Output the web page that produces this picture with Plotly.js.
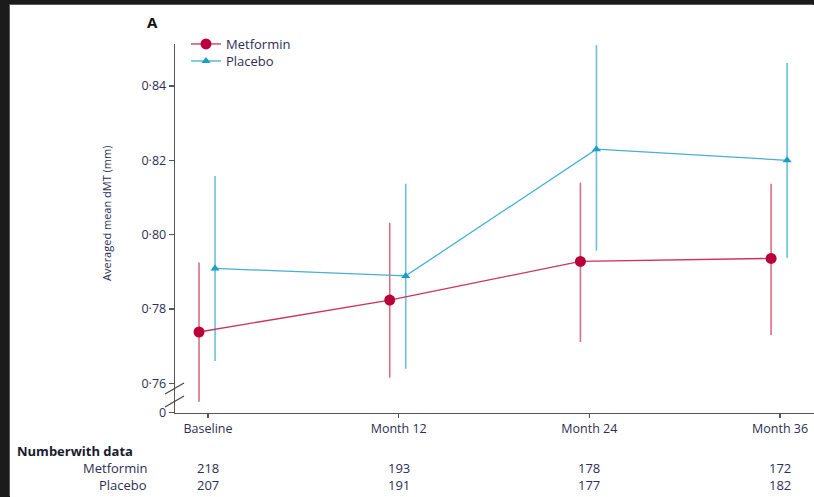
<!DOCTYPE html>
<html>
<head>
<meta charset="utf-8">
<script src="https://cdn.plot.ly/plotly-3.0.1.min.js"></script>
<style>
  html, body { margin: 0; padding: 0; width: 814px; height: 497px; background: #1b1b1b; overflow: hidden; }
  #chart { position: absolute; left: 10px; top: 5px; width: 804px; height: 492px; background: #fff;
           box-shadow: -1px -1px 0 #5a5a5a; }
</style>
</head>
<body>
<div id="chart"></div>
<script>
// ---- data ----
const timepoints = ['Baseline', 'Month 12', 'Month 24', 'Month 36'];
const metforminMean  = [0.7738, 0.7824, 0.7928, 0.7936];
const metforminUpper = [0.7925, 0.8032, 0.8140, 0.8137];
const metforminLower = [0.7550, 0.7615, 0.7711, 0.7730];
const placeboMean    = [0.7909, 0.7889, 0.8230, 0.8200];
const placeboUpper   = [0.8158, 0.8137, 0.8510, 0.8462];
const placeboLower   = [0.7660, 0.7639, 0.7957, 0.7938];
const nMetformin = [218, 193, 178, 172];
const nPlacebo   = [207, 191, 177, 182];
const yTickVals  = [0.7521, 0.76, 0.78, 0.80, 0.82, 0.84];
const yTickText  = ['0', '0·76', '0·78', '0·80', '0·82', '0·84'];

// ---- styling ----
const FONT = '"Open Sans", "Noto Sans", sans-serif';
const TXT = '#2e2e55';
const idx = timepoints.map((_, i) => i);
const xMet = idx.map(i => i - 0.047);
const xPla = idx.map(i => i + 0.037);

// plot area in page: x 175..814, y 44..413 ; div offset (10,5)
const plotL = 175, plotR = 814, plotT = 44, plotB = 413;
const px2paperX = p => (p - plotL) / (plotR - plotL);
const px2paperY = p => (plotB - p) / (plotB - plotT);

const traces = [
  { // metformin error bars
    x: xMet, y: metforminMean, type: 'scatter', mode: 'markers', showlegend: false, hoverinfo: 'skip',
    marker: { size: 1, color: 'rgba(0,0,0,0)' },
    error_y: { type: 'data', symmetric: false,
      array: metforminUpper.map((u, i) => u - metforminMean[i]),
      arrayminus: metforminMean.map((m, i) => m - metforminLower[i]),
      color: '#d86f86', thickness: 1.6, width: 0 }
  },
  { // placebo error bars
    x: xPla, y: placeboMean, type: 'scatter', mode: 'markers', showlegend: false, hoverinfo: 'skip',
    marker: { size: 1, color: 'rgba(0,0,0,0)' },
    error_y: { type: 'data', symmetric: false,
      array: placeboUpper.map((u, i) => u - placeboMean[i]),
      arrayminus: placeboMean.map((m, i) => m - placeboLower[i]),
      color: '#6cc0dc', thickness: 1.6, width: 0 }
  },
  {
    name: 'Metformin', x: xMet, y: metforminMean, type: 'scatter', mode: 'lines+markers',
    legend: 'legend',
    line: { color: '#cc3358', width: 1.3 },
    marker: { symbol: 'circle', size: 11, color: '#b8003a' }
  },
  {
    name: 'Placebo', x: xPla, y: placeboMean, type: 'scatter', mode: 'lines+markers',
    legend: 'legend2',
    line: { color: '#45b0d2', width: 1.3 },
    marker: { symbol: 'triangle-up', size: 8, color: '#1d9ec6' }
  }
];

const annFont = { family: FONT, size: 13, color: TXT };
const annotations = [
  { text: '<b>A</b>', xref: 'paper', yref: 'paper', x: px2paperX(152), y: px2paperY(22),
    xanchor: 'center', yanchor: 'middle', showarrow: false, font: { family: FONT, size: 15, color: '#111' } },
  { text: 'Averaged mean dMT (mm)', xref: 'paper', yref: 'paper', x: px2paperX(107), y: px2paperY(214),
    xanchor: 'center', yanchor: 'middle',
    textangle: -90, showarrow: false, font: { family: FONT, size: 11, color: TXT } },
  { text: '<b>Numberwith data</b>', xref: 'paper', yref: 'paper', x: px2paperX(15), y: px2paperY(451),
    xanchor: 'left', yanchor: 'middle', showarrow: false, font: { family: FONT, size: 13, color: '#1a1a2e' } },
  { text: 'Metformin', xref: 'paper', yref: 'paper', x: px2paperX(149), y: px2paperY(468),
    xanchor: 'right', yanchor: 'middle', showarrow: false, font: annFont },
  { text: 'Placebo', xref: 'paper', yref: 'paper', x: px2paperX(149), y: px2paperY(485),
    xanchor: 'right', yanchor: 'middle', showarrow: false, font: annFont }
];
nMetformin.forEach((n, i) => annotations.push({ text: String(n), xref: 'x', yref: 'paper', x: i, y: px2paperY(468),
  xanchor: 'center', yanchor: 'middle', showarrow: false, font: annFont }));
nPlacebo.forEach((n, i) => annotations.push({ text: String(n), xref: 'x', yref: 'paper', x: i, y: px2paperY(485),
  xanchor: 'center', yanchor: 'middle', showarrow: false, font: annFont }));

// axis break marks (decoration)
const shapes = [
  { type: 'line', xref: 'paper', yref: 'paper', x0: px2paperX(165), x1: px2paperX(184),
    y0: px2paperY(394), y1: px2paperY(383), line: { color: '#444', width: 1.2 } },
  { type: 'line', xref: 'paper', yref: 'paper', x0: px2paperX(165), x1: px2paperX(184),
    y0: px2paperY(407), y1: px2paperY(396), line: { color: '#444', width: 1.2 } }
];

const legendBase = {
  xanchor: 'left', yanchor: 'middle', bgcolor: 'rgba(0,0,0,0)',
  font: { family: FONT, size: 13, color: TXT }, itemwidth: 30, itemclick: false, borderwidth: 0
};

const layout = {
  width: 804, height: 492,
  margin: { l: plotL - 10, r: 0, t: plotT - 5, b: 492 - (plotB - 5) },
  paper_bgcolor: '#ffffff', plot_bgcolor: '#ffffff',
  font: { family: FONT, size: 13, color: TXT },
  showlegend: true,
  legend: Object.assign({}, legendBase, { x: px2paperX(186), y: px2paperY(44) }),
  legend2: Object.assign({}, legendBase, { x: px2paperX(186), y: px2paperY(61) }),
  xaxis: {
    range: [-0.173, 3.178], tickmode: 'array', tickvals: idx, ticktext: timepoints,
    showgrid: false, zeroline: false, showline: true, linecolor: '#555', linewidth: 1.3,
    ticks: 'outside', ticklen: 4, tickcolor: '#555', tickwidth: 1.3,
    tickfont: { family: FONT, size: 12.5, color: TXT }, fixedrange: true
  },
  yaxis: {
    range: [0.752, 0.8513], tickmode: 'array', tickvals: yTickVals, ticktext: yTickText,
    showgrid: false, zeroline: false, showline: true, linecolor: '#555', linewidth: 1.3,
    ticks: 'outside', ticklen: 5, tickcolor: '#555', tickwidth: 1.3,
    tickfont: { family: FONT, size: 12.5, color: TXT }, fixedrange: true
  },
  annotations: annotations,
  shapes: shapes
};

Plotly.newPlot('chart', traces, layout, { displayModeBar: false, staticPlot: true });
</script>
</body>
</html>
